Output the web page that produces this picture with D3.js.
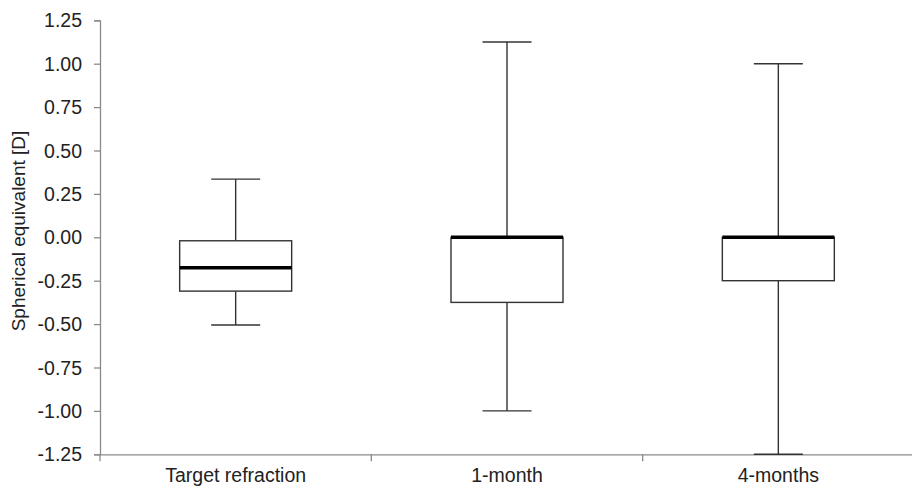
<!DOCTYPE html>
<html><head><meta charset="utf-8">
<script src="https://cdn.jsdelivr.net/npm/d3@7"></script>
<style>body{margin:0;background:#fff}svg{display:block}</style>
</head><body>
<script>
const categories = ["Target refraction", "1-month", "4-months"];
const whiskerHigh = [0.335, 1.125, 1.00];
const q3 = [-0.02, 0.00, 0.00];
const median = [-0.175, 0.00, 0.00];
const q1 = [-0.31, -0.375, -0.25];
const whiskerLow = [-0.505, -1.00, -1.25];
const yTicks = [-1.25, -1.00, -0.75, -0.50, -0.25, 0.00, 0.25, 0.50, 0.75, 1.00, 1.25];
const yLabel = "Spherical equivalent [D]";

const W = 912, H = 490;
const svg = d3.select("body").append("svg").attr("width", W).attr("height", H)
  .style("font-family", "'Liberation Sans', Arial, sans-serif");

const x = d3.scaleBand().domain(categories).range([100, 914]).padding(0);
const y = d3.scaleLinear().domain([-1.25, 1.25]).range([454.3, 20.3]);

const axisColor = "#8a8a8a", textColor = "#222";
const fs = "19.5px";

// Y axis
const yAxis = svg.append("g").attr("transform", "translate(100,0)")
  .call(d3.axisLeft(y).tickValues(yTicks).tickFormat(d => d.toFixed(2)).tickSizeOuter(0).tickSize(6).tickPadding(12));
yAxis.select(".domain").attr("stroke", axisColor).attr("stroke-width", 1.3);
yAxis.selectAll(".tick line").attr("stroke", axisColor).attr("stroke-width", 1.3);
yAxis.selectAll(".tick text").attr("fill", textColor).style("font-size", fs).attr("dy", "0.34em");

// X axis
const xAxis = svg.append("g").attr("transform", "translate(0,454.3)")
  .call(d3.axisBottom(x).tickSize(0).tickPadding(14));
xAxis.select(".domain").attr("stroke", axisColor).attr("stroke-width", 1.3);
xAxis.selectAll(".tick text").attr("fill", textColor).style("font-size", fs);
// band-boundary ticks
const bounds = [x.range()[0]].concat(categories.map(c => x(c) + x.bandwidth()));
xAxis.selectAll(".bt").data(bounds).enter().append("line")
  .attr("x1", d => d).attr("x2", d => d).attr("y1", 0).attr("y2", 7)
  .attr("stroke", axisColor).attr("stroke-width", 1.3);

// y label
svg.append("text").attr("transform", "translate(25,231) rotate(-90)")
  .attr("text-anchor", "middle").attr("fill", textColor).style("font-size", "19px").text(yLabel);

// boxes
const boxW = 112, capW = 49;
const stroke = "#333";
categories.forEach((c, i) => {
  const cx = x(c) + x.bandwidth() / 2;
  const g = svg.append("g");
  g.append("line").attr("x1", cx).attr("x2", cx).attr("y1", y(whiskerHigh[i])).attr("y2", y(q3[i]))
    .attr("stroke", stroke).attr("stroke-width", 1.4);
  g.append("line").attr("x1", cx).attr("x2", cx).attr("y1", y(q1[i])).attr("y2", y(whiskerLow[i]))
    .attr("stroke", stroke).attr("stroke-width", 1.4);
  g.append("line").attr("x1", cx - capW / 2).attr("x2", cx + capW / 2).attr("y1", y(whiskerHigh[i])).attr("y2", y(whiskerHigh[i]))
    .attr("stroke", stroke).attr("stroke-width", 1.4);
  g.append("line").attr("x1", cx - capW / 2).attr("x2", cx + capW / 2).attr("y1", y(whiskerLow[i])).attr("y2", y(whiskerLow[i]))
    .attr("stroke", stroke).attr("stroke-width", 1.4);
  g.append("rect").attr("x", cx - boxW / 2).attr("width", boxW)
    .attr("y", y(q3[i])).attr("height", y(q1[i]) - y(q3[i]))
    .attr("fill", "#fff").attr("stroke", stroke).attr("stroke-width", 1.4);
  g.append("line").attr("x1", cx - boxW / 2).attr("x2", cx + boxW / 2).attr("y1", y(median[i])).attr("y2", y(median[i]))
    .attr("stroke", "#000").attr("stroke-width", 3.5);
});
</script>
</body></html>
